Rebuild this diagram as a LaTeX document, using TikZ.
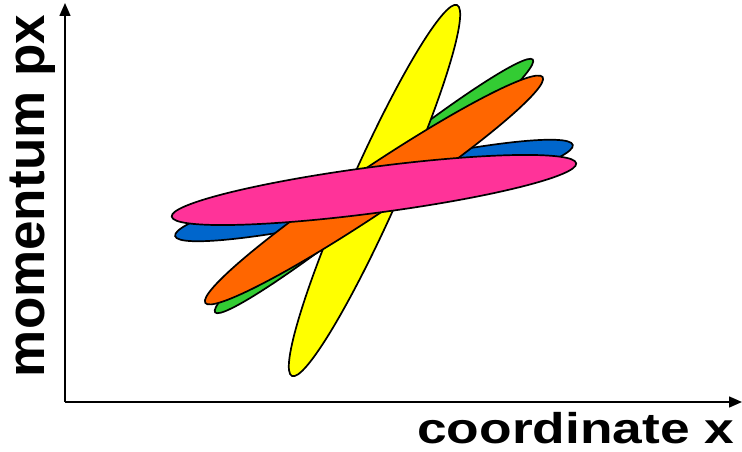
\documentclass[tikz,border=0pt]{standalone}
\usepackage{fontspec}
\setmainfont{Liberation Sans}
\usetikzlibrary{arrows.meta}
\definecolor{cyellow}{HTML}{FFFF00}
\definecolor{cgreen}{HTML}{33CC33}
\definecolor{corange}{HTML}{FF6600}
\definecolor{cblue}{HTML}{0066CC}
\definecolor{cpink}{HTML}{FF3399}
\begin{document}
\begin{tikzpicture}[x=1pt,y=-1pt,
  blob/.style={draw=black,line width=1.7pt},
  axis/.style={line width=1.5pt,-{Triangle[length=13pt,width=11pt]}},
  lbl/.style={inner sep=0pt,font=\bfseries}]
\useasboundingbox (0,0) rectangle (742,452);
\coordinate (O) at (65,402);
\coordinate (Y) at (65,3);
\coordinate (X) at (742,402);
\draw[axis] (O) -- (Y);
\draw[axis] (O) -- (X);
% ellipses
\coordinate (cb) at (374,190.5);
\draw[blob,fill=cblue,rotate around={12.9:(cb)}] (cb) ellipse [x radius=204pt, y radius=23pt];
\coordinate (cg) at (374,186);
\draw[blob,fill=cgreen,rotate around={38.5:(cg)}] (cg) ellipse [x radius=203pt, y radius=18.5pt];
\coordinate (cy) at (374.5,190.5);
\draw[blob,fill=cyellow,rotate around={66:(cy)}] (cy) ellipse [x radius=203pt, y radius=25pt];
\coordinate (co) at (374,190);
\draw[blob,fill=corange,rotate around={33.8:(co)}] (co) ellipse [x radius=203pt, y radius=22.5pt];
\coordinate (cp) at (374,190);
\draw[blob,fill=cpink,rotate around={7.5:(cp)}] (cp) ellipse [x radius=204pt, y radius=23pt];
% labels
\node[lbl,anchor=base west] (xl) at (417,443) {\fontsize{43}{43}\selectfont\scalebox{1.24}[1]{coordinate x}};
\node[lbl,anchor=base,rotate=90] (yl) at (45,196) {\fontsize{53}{53}\selectfont momentum px};
\end{tikzpicture}
\end{document}
